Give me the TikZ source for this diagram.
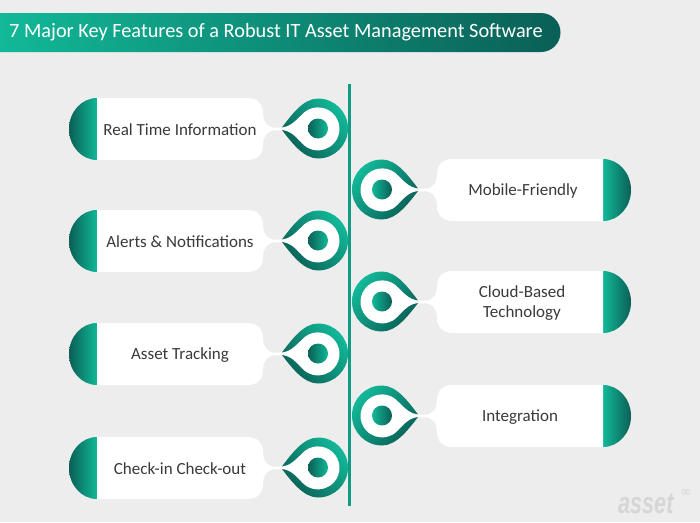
\documentclass[tikz,border=0pt]{standalone}
\usepackage{graphicx}
\usepackage{fontspec}
\setmainfont{Carlito}
\newfontfamily\markfont{Liberation Sans}
\newfontfamily\symfont{DejaVu Sans}
\definecolor{bgc}{HTML}{EDEDED}
\definecolor{lightc}{HTML}{12B898}
\definecolor{darkc}{HTML}{0A5F56}
\definecolor{midc}{HTML}{0F9C84}
\definecolor{inkc}{HTML}{3A3A3A}
\definecolor{markc}{HTML}{D6D6D6}
\tikzset{
  featuretext/.style={text=inkc,align=center,font=\fontsize{17}{20}\selectfont,inner sep=0pt},
  whitepart/.style={fill=white,draw=none},
  spine/.style={draw=midc,line width=3.4pt},
  gradL/.style={left color=darkc,right color=lightc},
  gradR/.style={left color=lightc,right color=darkc},
  eyeL/.style={bottom color=darkc,top color=lightc,shading angle=-50},
  eyeR/.style={bottom color=darkc,top color=lightc,shading angle=50},
}
\newcommand\featureitem[7]{%
  \begin{scope}[shift={(350,#3)},xscale=#2]
    \shade[#6] (-253,-31) arc[start angle=-90,end angle=-270,x radius=28,y radius=31] -- cycle;
    \path[whitepart] (-253,-31) -- (-103,-31)
       .. controls (-92,-31) and (-87,-25) .. (-87,-15)
       .. controls (-87,-8) and (-83,-1.3) .. (-75,-1.3) -- (-60,-1.3)
       -- (-60,1.3) -- (-75,1.3)
       .. controls (-83,1.3) and (-87,8) .. (-87,15)
       .. controls (-87,25) and (-92,31) .. (-103,31)
       -- (-253,31) -- cycle;
    \begin{scope}[shift={(-32,-0.5)}]
      \shade[#7] (-37,0.3) .. controls (-27,-13) and (-15,-30) .. (0,-30)
         arc[start angle=-90,end angle=90,radius=30]
         .. controls (-15,30) and (-27,13) .. (-37,0.3) -- cycle;
      \path[whitepart] (-38,-1) .. controls (-29,-1) and (-24,-6) .. (-16,-14)
         arc[start angle=-138,end angle=138,radius=21.5]
         .. controls (-24,6) and (-29,1.5) .. (-38,1.5) -- cycle;
      \shade[#6] (0,0) circle[radius=10];
    \end{scope}
  \end{scope}
  \node[featuretext] (#1) at (#4,#3+1) {#5};
}
\begin{document}
\begin{tikzpicture}[x=1pt,y=-1pt]
  \useasboundingbox (0,0) rectangle (700,522);
  \fill[bgc] (0,0) rectangle (700,522);
  \shade[left color=lightc,right color=darkc] (0,13) -- (541,13) arc[start angle=-90,end angle=90,radius=19.5] -- (0,52) -- cycle;
  \node[anchor=west,text=white,inner sep=0pt,font=\fontsize{20.3}{24}\selectfont] (title) at (9,32) {7 Major Key Features of a Robust IT Asset Management Software};
  \coordinate (spineTop) at (349.5,84);
  \coordinate (spineBottom) at (349.5,506);
  \draw[spine] (spineTop) -- (spineBottom);
  \featureitem{realtime}{1}{129}{180}{Real Time Information}{gradL}{eyeL}
  \featureitem{alerts}{1}{241}{180}{Alerts \& Notifications}{gradL}{eyeL}
  \featureitem{tracking}{1}{354}{180}{Asset Tracking}{gradL}{eyeL}
  \featureitem{checkin}{1}{468}{180}{Check-in Check-out}{gradL}{eyeL}
  \featureitem{mobile}{-1}{190}{523}{Mobile-Friendly}{gradR}{eyeR}
  \featureitem{cloud}{-1}{302}{522}{Cloud-Based\\Technology}{gradR}{eyeR}
  \featureitem{integration}{-1}{416}{520}{Integration}{gradR}{eyeR}
  \node[anchor=base west,text=markc,inner sep=0pt,font=\markfont\bfseries\itshape\fontsize{30}{30}\selectfont] (watermark) at (618,513) {\scalebox{0.72}[1]{asset}};
  \node[text=markc,inner sep=0pt,font=\symfont\fontsize{14}{14}\selectfont] (infinity) at (686,493) {∞};
\end{tikzpicture}
\end{document}
